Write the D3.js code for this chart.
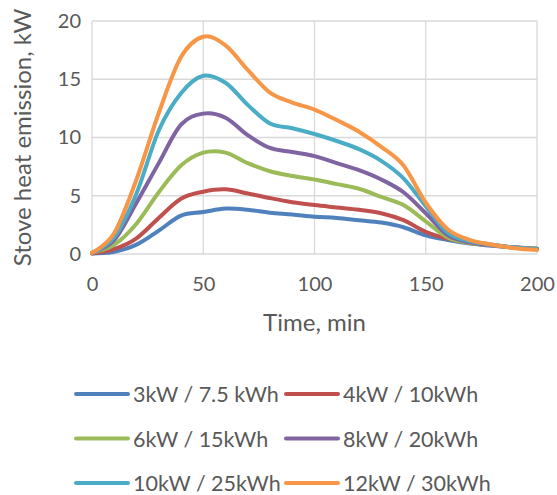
<!DOCTYPE html>
<html><head><meta charset="utf-8">
<script src="https://cdn.jsdelivr.net/npm/d3@7"></script>
<style>body{margin:0;background:#fff}svg{display:block}text{font-family:Lato,"Open Sans",sans-serif;fill:#595959}</style>
</head><body><svg id="c" width="557" height="495"></svg>
<script>
const time = [0,10,20,30,40,50,60,70,80,90,100,110,120,130,140,150,160,170,180,190,200];
const s3  = [0.05,0.2,0.8,2.0,3.3,3.6,3.9,3.8,3.55,3.4,3.2,3.1,2.9,2.7,2.3,1.6,1.2,0.9,0.7,0.55,0.45];
const s4  = [0.05,0.43,1.35,3.1,4.75,5.35,5.55,5.2,4.8,4.45,4.2,4.0,3.8,3.5,2.9,1.9,1.3,0.95,0.75,0.55,0.45];
const s6  = [0.1,0.8,2.6,5.3,7.6,8.7,8.7,7.8,7.1,6.7,6.4,6.0,5.6,4.9,4.2,2.8,1.4,0.95,0.75,0.55,0.45];
const s8  = [0.1,1.2,4.4,7.8,11.1,12.05,11.7,10.2,9.1,8.75,8.4,7.8,7.2,6.4,5.3,3.5,1.6,1.0,0.75,0.55,0.4];
const s10 = [0.1,1.45,5.2,10.6,13.8,15.3,14.7,12.8,11.2,10.8,10.3,9.7,9.0,8.0,6.5,4.1,1.8,1.1,0.8,0.55,0.4];
const s12 = [0.1,1.8,6.4,12.1,16.9,18.65,17.9,15.8,13.85,13.0,12.4,11.5,10.5,9.2,7.6,4.4,2.1,1.2,0.8,0.5,0.35];
const seriesNames = ["3kW / 7.5 kWh","4kW / 10kWh","6kW / 15kWh","8kW / 20kWh","10kW / 25kWh","12kW / 30kWh"];
const seriesColors = ["#4F81BD","#C0504D","#9BBB59","#8064A2","#4BACC6","#F79646"];
const xTicks = [0,50,100,150,200];
const yTicks = [0,5,10,15,20];
const allSeries = [s3,s4,s6,s8,s10,s12];

const svg = d3.select("#c");
const x = d3.scaleLinear().domain([0,200]).range([92,537]);
const y = d3.scaleLinear().domain([0,20]).range([254,21]);

// gridlines
svg.append("g").selectAll("line").data(yTicks).join("line")
  .attr("x1",x(0)).attr("x2",x(200)).attr("y1",d=>y(d)).attr("y2",d=>y(d))
  .attr("stroke","#d9d9d9").attr("stroke-width",1.3);
svg.append("g").selectAll("line").data(xTicks).join("line")
  .attr("y1",y(0)).attr("y2",y(20)).attr("x1",d=>x(d)).attr("x2",d=>x(d))
  .attr("stroke","#d9d9d9").attr("stroke-width",1.3);

// axes
const xa = svg.append("g").attr("transform",`translate(0,${y(0)})`)
  .call(d3.axisBottom(x).tickValues(xTicks).tickSize(0).tickPadding(23));
const ya = svg.append("g").attr("transform",`translate(${x(0)},0)`)
  .call(d3.axisLeft(y).tickValues(yTicks).tickSize(0).tickPadding(11));
[xa,ya].forEach(a=>{a.select(".domain").remove();a.selectAll("text").attr("font-size",20).attr("fill","#595959").style("font-family","Lato");});

// lines
const line = d3.line().x((d,i)=>x(time[i])).y(d=>y(d)).curve(d3.curveCardinal.tension(0));
svg.append("g").selectAll("path").data(allSeries).join("path")
  .attr("d",d=>line(d)).attr("fill","none")
  .attr("stroke",(d,i)=>seriesColors[i]).attr("stroke-width",4).attr("stroke-linecap","round").attr("stroke-linejoin","round");

// axis titles
svg.append("text").attr("x",(x(0)+x(200))/2).attr("y",331).attr("text-anchor","middle").attr("font-size",24).text("Time, min");
svg.append("text").attr("transform",`translate(31,${(y(0)+y(20))/2}) rotate(-90)`).attr("text-anchor","middle").attr("font-size",24).text("Stove heat emission, kW");

// legend
const lg = svg.append("g");
seriesNames.forEach((n,i)=>{
  const col = i%2, row = Math.floor(i/2);
  const lx = col===0 ? 76 : 286, ly = 394 + row*44.5;
  lg.append("line").attr("x1",lx).attr("x2",lx+52).attr("y1",ly).attr("y2",ly)
    .attr("stroke",seriesColors[i]).attr("stroke-width",4).attr("stroke-linecap","round");
  lg.append("text").attr("x",lx+57).attr("y",ly+8).attr("font-size",21.5).text(n);
});
</script></body></html>
